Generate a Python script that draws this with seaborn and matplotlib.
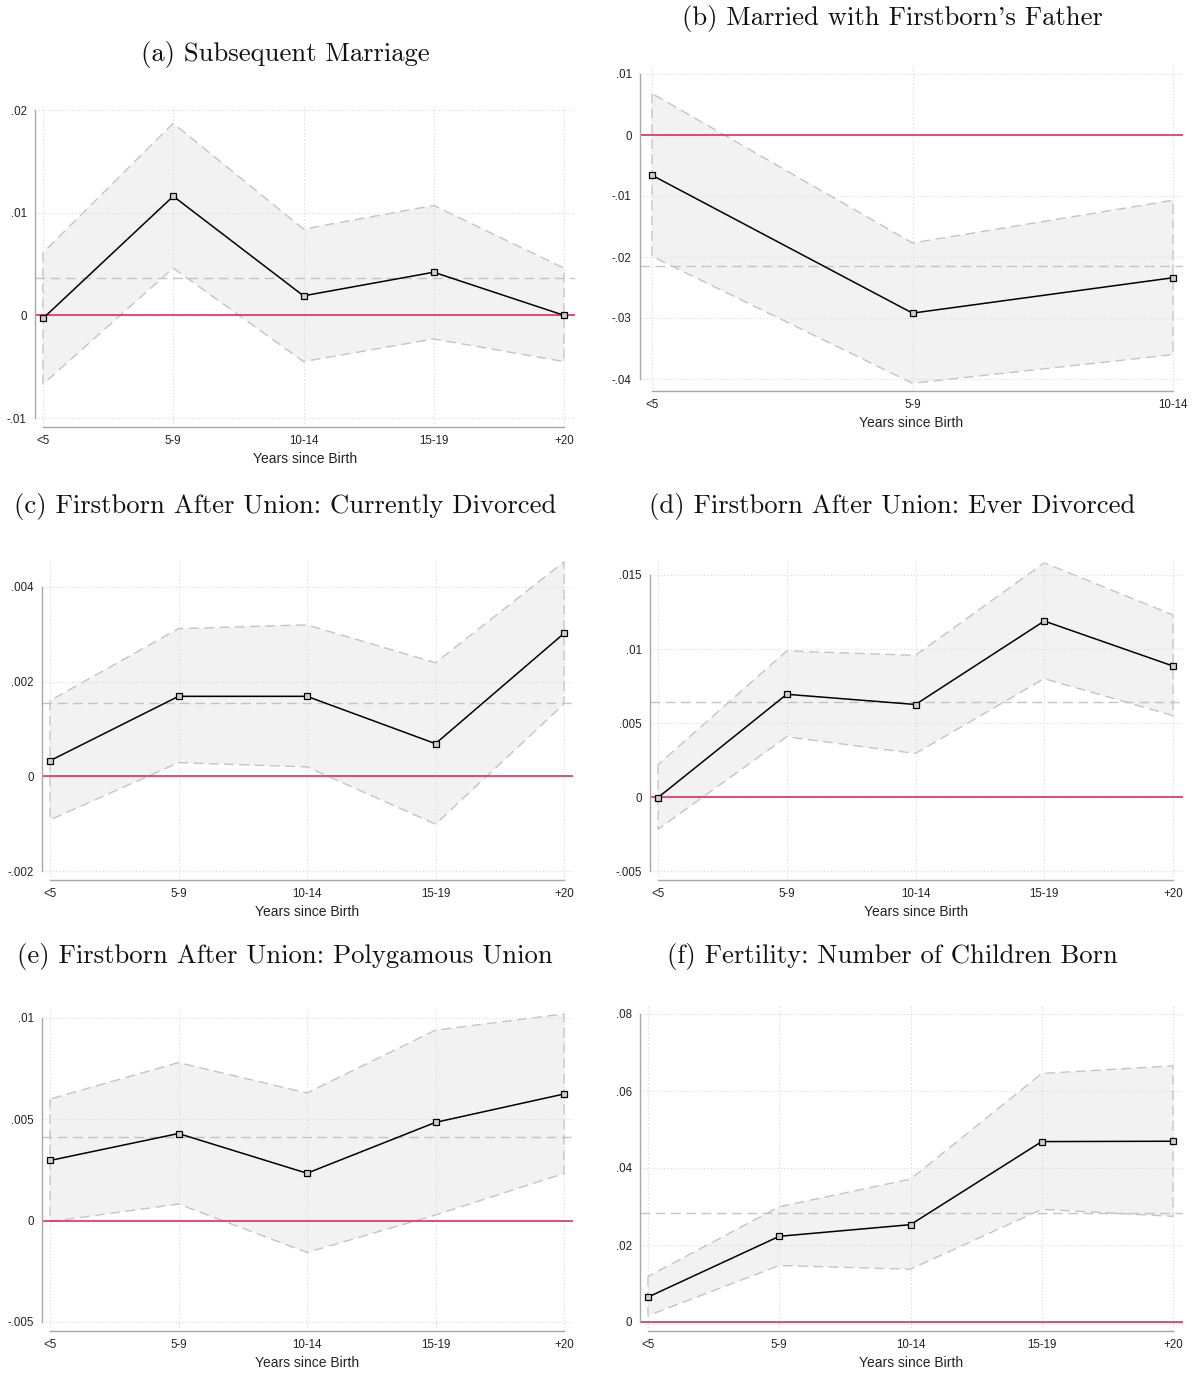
import numpy as np
import pandas as pd
import matplotlib
matplotlib.use('Agg')
import matplotlib.pyplot as plt
import seaborn as sns
from matplotlib.ticker import FuncFormatter

# categories on the x axis
years5 = ['<5', '5-9', '10-14', '15-19', '+20']
years3 = ['<5', '5-9', '10-14']

# (a) Subsequent Marriage
a_est = [-0.0003, 0.0116, 0.0019, 0.0042, 0.0000]
a_lo = [-0.0067, 0.0046, -0.0045, -0.0023, -0.0045]
a_hi = [0.0061, 0.0187, 0.0084, 0.0107, 0.0046]
a_mean = 0.0036
a_yticks = [-0.01, 0, 0.01, 0.02]

# (b) Married with Firstborn's Father
b_est = [-0.0066, -0.0292, -0.0234]
b_lo = [-0.0199, -0.0407, -0.0360]
b_hi = [0.0068, -0.0177, -0.0107]
b_mean = -0.0215
b_yticks = [-0.04, -0.03, -0.02, -0.01, 0, 0.01]

# (c) Firstborn After Union: Currently Divorced
c_est = [0.00033, 0.00169, 0.00169, 0.00069, 0.00302]
c_lo = [-0.00092, 0.00029, 0.00020, -0.00101, 0.00153]
c_hi = [0.00160, 0.00312, 0.00320, 0.00240, 0.00453]
c_mean = 0.00154
c_yticks = [-0.002, 0, 0.002, 0.004]

# (d) Firstborn After Union: Ever Divorced
d_est = [-0.00004, 0.00694, 0.00625, 0.01189, 0.00885]
d_lo = [-0.00218, 0.00407, 0.00294, 0.00800, 0.00550]
d_hi = [0.00218, 0.00987, 0.00957, 0.01582, 0.01230]
d_mean = 0.00643
d_yticks = [-0.005, 0, 0.005, 0.01, 0.015]

# (e) Firstborn After Union: Polygamous Union
e_est = [0.00297, 0.00430, 0.00234, 0.00485, 0.00625]
e_lo = [-0.00005, 0.00082, -0.00157, 0.00028, 0.00233]
e_hi = [0.00600, 0.00780, 0.00630, 0.00940, 0.01020]
e_mean = 0.00411
e_yticks = [-0.005, 0, 0.005, 0.01]

# (f) Fertility: Number of Children Born
f_est = [0.00647, 0.02226, 0.02528, 0.04686, 0.04695]
f_lo = [0.00164, 0.01467, 0.01372, 0.02926, 0.02744]
f_hi = [0.01182, 0.02994, 0.03711, 0.06455, 0.06654]
f_mean = 0.02822
f_yticks = [0, 0.02, 0.04, 0.06, 0.08]

titles = ['(a) Subsequent Marriage',
          "(b) Married with Firstborn's Father",
          '(c) Firstborn After Union: Currently Divorced',
          '(d) Firstborn After Union: Ever Divorced',
          '(e) Firstborn After Union: Polygamous Union',
          '(f) Fertility: Number of Children Born']

W, H = 1196, 1375
RED = '#dc1e50'
CI_GREY = '#c4c4c4'

# layout in pixels: spine x, right edge, top, bottom spine,
# first/last x tick px, top/bottom y tick px, title centre
layout = [
    dict(l=35, r=575, t=104, b=427, x0=43, x1=564, y0=110, y1=418, tx=285, ty=54),
    dict(l=640, r=1183, t=66, b=391, x0=652, x1=1173, y0=74, y1=379, tx=892, ty=18),
    dict(l=42, r=573, t=560, b=880, x0=50, x1=564, y0=587, y1=871, tx=285, ty=506),
    dict(l=650, r=1183, t=560, b=880, x0=658, x1=1173, y0=575, y1=871, tx=892, ty=506),
    dict(l=42, r=573, t=1010, b=1331, x0=50, x1=564, y0=1018, y1=1322, tx=285, ty=957),
    dict(l=640, r=1183, t=1006, b=1331, x0=648, x1=1173, y0=1014, y1=1322, tx=892, ty=957),
]

panels = [
    (years5, a_est, a_lo, a_hi, a_mean, a_yticks),
    (years3, b_est, b_lo, b_hi, b_mean, b_yticks),
    (years5, c_est, c_lo, c_hi, c_mean, c_yticks),
    (years5, d_est, d_lo, d_hi, d_mean, d_yticks),
    (years5, e_est, e_lo, e_hi, e_mean, e_yticks),
    (years5, f_est, f_lo, f_hi, f_mean, f_yticks),
]


def stata_fmt(v, pos=None):
    if abs(v) < 1e-12:
        return '0'
    s = f'{v:g}'
    return s.replace('0.', '.')


sns.set_theme(style='white')
plt.rcParams['font.family'] = ['Liberation Sans', 'DejaVu Sans']

fig = plt.figure(figsize=(W / 100, H / 100), dpi=100)

for (cats, est, lo, hi, mean, yticks), box, title in zip(panels, layout, titles):
    ax = fig.add_axes([box['l'] / W, 1 - box['b'] / H,
                       (box['r'] - box['l']) / W, (box['b'] - box['t']) / H])
    n = len(cats)
    df = pd.DataFrame({'pos': np.arange(n), 'est': est, 'lo': lo, 'hi': hi})

    # confidence band with dashed outline
    ax.fill_between(df['pos'], df['lo'], df['hi'], facecolor='#f2f2f2',
                    edgecolor=CI_GREY, linestyle=(0, (7, 4)), linewidth=1.0, zorder=1)
    ax.axhline(mean, color=CI_GREY, ls=(0, (7, 4)), lw=1.0, zorder=1.6)
    ax.axhline(0, color=RED, lw=1.1, zorder=2)
    sns.lineplot(data=df, x='pos', y='est', ax=ax, color='black', lw=1.1,
                 marker='s', markersize=4.5, markerfacecolor='#d0d0d0',
                 markeredgecolor='black', markeredgewidth=0.9, zorder=3)

    # axis limits so ticks land where they do in the original
    per = (box['x1'] - box['x0']) / (n - 1)
    ax.set_xlim(-(box['x0'] - box['l']) / per, (n - 1) + (box['r'] - box['x1']) / per)
    vtop, vbot = max(yticks), min(yticks)
    scale = (vtop - vbot) / (box['y1'] - box['y0'])
    ax.set_ylim(vbot - (box['b'] - box['y1']) * scale, vtop + (box['y0'] - box['t']) * scale)

    ax.set_xticks(np.arange(n))
    ax.set_xticklabels(cats)
    ax.set_yticks(yticks)
    ax.yaxis.set_major_formatter(FuncFormatter(stata_fmt))

    ax.grid(True, ls=(0, (1, 2)), color='#d8d8d8', lw=0.8, zorder=1.5)
    ax.set_axisbelow('line')
    for s in ['top', 'right']:
        ax.spines[s].set_visible(False)
    for s in ['left', 'bottom']:
        ax.spines[s].set_color('#a8a8a8')
        ax.spines[s].set_linewidth(1.0)
    ax.spines['left'].set_bounds(vbot, vtop)
    ax.spines['bottom'].set_bounds(0, n - 1)
    ax.tick_params(axis='both', direction='out', length=3.5, width=0.8,
                   color='#a8a8a8', labelsize=8.3, labelcolor='#222222', pad=2.5)

    ax.set_xlabel('Years since Birth', fontsize=10, color='#222222')
    ax.set_ylabel('')
    ax.xaxis.label.set_va('center')
    ax.xaxis.set_label_coords(0.5, -32 / (box['b'] - box['t']))

    fig.text(box['tx'] / W, 1 - box['ty'] / H, title, ha='center', va='center',
             fontsize=19.2, family='cmr10', color='#111111')

fig.savefig('out.png', dpi=100, facecolor='white')
